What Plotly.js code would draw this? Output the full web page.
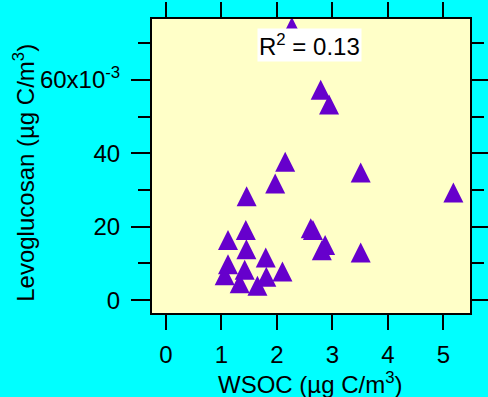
<!DOCTYPE html>
<html>
<head>
<meta charset="utf-8">
<script src="https://cdn.plot.ly/plotly-3.0.1.min.js"></script>
<style>
  html, body { margin: 0; padding: 0; background: #00FFFF; }
  #chart { width: 488px; height: 397px; }
</style>
</head>
<body>
<div id="chart"></div>
<script>
// WSOC (µg C/m3) vs levoglucosan (µg C/m3) samples
const wsoc = [
  1.12, 1.44, 1.45, 1.80, 2.10, 1.12, 1.06, 1.33, 1.65, 1.42, 1.81,
  1.455, 1.97, 2.15, 2.79, 2.94, 2.61, 2.65, 2.87, 2.81, 3.51, 3.51, 5.18, 2.27
];
const levoglucosan = [
  0.0164, 0.0191, 0.0139, 0.0116, 0.0078, 0.0098, 0.0068, 0.0046, 0.0039, 0.0083, 0.0064,
  0.0283, 0.0318, 0.0377, 0.0573, 0.0533, 0.0196, 0.0191, 0.0150, 0.0136, 0.0348, 0.0130, 0.0293, 0.0744
];

// axis ticks
const xTickVals = [0, 1, 2, 3, 4, 5];
const yTickVals = [0, 0.02, 0.04, 0.06];
const yTickText = ['0', '20', '40', '60x10<sup>-3</sup>'];
const yMinorVals = [0.01, 0.03, 0.05, 0.07];

const rSquared = 0.13;

const fontFamily = 'Arial, "Liberation Sans", sans-serif';
const fontSize = 24;

const traces = [
  {
    x: wsoc,
    y: levoglucosan,
    type: 'scatter',
    mode: 'markers',
    // arrow turned to point up and pushed back so the triangle is centred on the point
    marker: {
      symbol: 'arrow-down',
      angle: 180,
      size: 20,
      standoff: 10,
      color: '#6600CC',
      line: { width: 0 }
    },
    cliponaxis: true,
    hoverinfo: 'x+y'
  }
];

const layout = {
  width: 488,
  height: 397,
  paper_bgcolor: '#00FFFF',
  plot_bgcolor: '#FFFFC8',
  showlegend: false,
  margin: { l: 152, r: 18, t: 19, b: 84 },
  font: { family: fontFamily, size: fontSize, color: '#000000' },
  xaxis: {
    range: [-0.25, 5.48],
    tickmode: 'array',
    tickvals: xTickVals,
    ticks: 'outside',
    ticklen: 15,
    tickwidth: 2,
    tickcolor: '#000000',
    ticklabelstandoff: 4,
    showline: true,
    linewidth: 2,
    linecolor: '#000000',
    mirror: 'ticks',
    showgrid: false,
    zeroline: false,
    tickfont: { size: fontSize }
  },
  yaxis: {
    range: [-0.0035, 0.0766],
    tickmode: 'array',
    tickvals: yTickVals,
    ticktext: yTickText,
    ticks: 'outside',
    ticklen: 19,
    tickwidth: 2,
    tickcolor: '#000000',
    ticklabelstandoff: 6,
    minor: {
      tickmode: 'array',
      tickvals: yMinorVals,
      ticks: 'outside',
      ticklen: 12,
      tickwidth: 2,
      tickcolor: '#000000',
      showgrid: false
    },
    showline: true,
    linewidth: 2,
    linecolor: '#000000',
    mirror: 'ticks',
    showgrid: false,
    zeroline: false,
    tickfont: { size: fontSize }
  },
  annotations: [
    {
      text: 'R<sup>2</sup> = ' + rSquared.toFixed(2),
      xref: 'paper', yref: 'paper',
      x: 0.494, y: 0.91,
      xanchor: 'center', yanchor: 'middle',
      showarrow: false,
      bgcolor: '#FFFFFF',
      borderpad: 1,
      font: { size: fontSize }
    },
    {
      text: 'WSOC (µg C/m<sup>3</sup>)',
      xref: 'paper', yref: 'paper',
      x: 0.497, y: -0.238,
      xanchor: 'center', yanchor: 'middle',
      showarrow: false,
      font: { size: fontSize }
    },
    {
      text: 'Levoglucosan (µg C/m<sup>3</sup>)',
      xref: 'paper', yref: 'paper',
      x: -0.4025, y: 0.477,
      xanchor: 'center', yanchor: 'middle',
      textangle: -90,
      showarrow: false,
      font: { size: fontSize }
    }
  ]
};

Plotly.newPlot('chart', traces, layout, { displayModeBar: false, staticPlot: true });
</script>
</body>
</html>
